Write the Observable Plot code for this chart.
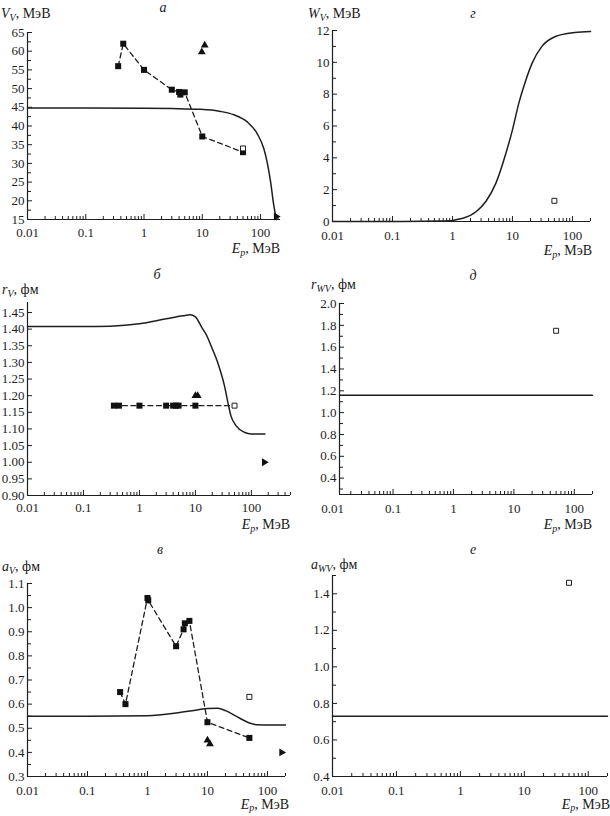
<!DOCTYPE html>
<html><head><meta charset="utf-8">
<script src="https://cdn.jsdelivr.net/npm/d3@7"></script>
<script src="https://cdn.jsdelivr.net/npm/@observablehq/plot@0.6"></script>
<style>
body{margin:0;background:#fff;}
#root{position:relative;width:610px;height:816px;background:#fff;font-family:"Liberation Serif","Times New Roman",Tinos,"DejaVu Serif","Noto Serif",FreeSerif,serif;color:#1a1a1a;overflow:hidden;}
.pn{position:absolute;}
.lbl{position:absolute;font-size:14px;line-height:16px;white-space:nowrap;}
.lbl sub{font-size:10px;vertical-align:-3px;line-height:0;}
.ttl{position:absolute;font-size:14px;font-style:italic;line-height:16px;transform:translateX(-50%);}
.xl{transform:translateX(-100%);}
.bt{line-height:14px;}
.bt sub{vertical-align:-2px;}
</style></head>
<body><div id="root"></div>
<script>
// ---- data ----
const xTickLabels = [0.01, 0.1, 1, 10, 100];

// panel а : V_V
const aCurveE = [0.01, 0.1, 1, 3, 9.3, 20.6, 34.8, 59, 88, 114, 130, 149, 169, 188];
const aCurveV = [44.8, 44.8, 44.75, 44.65, 44.45, 43.9, 43.0, 41.1, 37.9, 33.9, 30.3, 25.0, 18.7, 15.0];
const aSqE = [0.36, 0.44, 1, 3, 4, 4.2, 5, 10, 50];
const aSqV = [56, 62, 55, 49.7, 49.1, 48.4, 49, 37.2, 33];
const aOpenE = [50], aOpenV = [34];
const aTriE = [9.8, 11], aTriV = [59.8, 61.6];
const aRTriE = [185], aRTriV = [15.8];

// panel г : W_V
const gCurveE = [0.01, 0.1, 0.7, 1.5, 2.5, 3.6, 5.3, 7.8, 10, 12.9, 16.6, 21.3, 31, 52, 110, 200];
const gCurveW = [0, 0, 0.03, 0.21, 0.63, 1.26, 2.41, 4.3, 5.76, 7.5, 8.85, 9.95, 11.0, 11.62, 11.87, 11.93];
const gOpenE = [50], gOpenW = [1.3];

// panel б : r_V
const bCurveE = [0.01, 0.1, 0.3, 1, 3, 6, 8, 10, 13, 16, 19, 25, 33, 38, 43, 53, 75, 100, 175];
const bCurveR = [1.408, 1.408, 1.409, 1.416, 1.431, 1.44, 1.443, 1.437, 1.405, 1.38, 1.35, 1.30, 1.23, 1.18, 1.14, 1.11, 1.09, 1.085, 1.085];
const bSqE = [0.35, 0.43, 1, 3, 4, 4.5, 5, 10];
const bSqR = [1.17, 1.17, 1.17, 1.17, 1.17, 1.17, 1.17, 1.17];
const bOpenE = [50], bOpenR = [1.17];
const bTriE = [10, 11], bTriR = [1.20, 1.20];
const bRTriE = [170], bRTriR = [1.00];

// panel д : r_WV
const dCurveE = [0.013, 200], dCurveR = [1.16, 1.16];
const dOpenE = [50], dOpenR = [1.75];

// panel в : a_V
const vCurveE = [0.01, 0.1, 1, 3, 7, 10, 15, 20, 30, 50, 70, 100, 200];
const vCurveA = [0.55, 0.55, 0.552, 0.563, 0.577, 0.582, 0.583, 0.573, 0.55, 0.522, 0.514, 0.513, 0.513];
const vSqE = [0.35, 0.43, 1, 1.03, 3, 4, 4.2, 5, 10, 50];
const vSqA = [0.65, 0.60, 1.04, 1.03, 0.84, 0.91, 0.935, 0.945, 0.525, 0.46];
const vOpenE = [50], vOpenA = [0.63];
const vTriE = [10, 11], vTriA = [0.45, 0.435];
const vRTriE = [172], vRTriA = [0.40];

// panel е : a_WV
const eCurveE = [0.01, 200], eCurveA = [0.73, 0.73];
const eOpenE = [50], eOpenA = [1.46];

// ---- helpers ----
const zip = (xs, ys) => xs.map((x, i) => ({x, y: ys[i]}));
const range = (a, b, s) => { const r = []; for (let v = a; v <= b + 1e-9; v += s) r.push(+v.toFixed(4)); return r; };
const INK = "#1e1e1e";
const FONT = '"Liberation Serif", "Times New Roman", Tinos, "DejaVu Serif", "Noto Serif", FreeSerif, serif';

function panel(cfg) {
  const {w, h, ml, mr, mt, mb, xd, yd, yMajor, yMinor, yFmt, curve, dashed, open, tri, rtri, tdy} = cfg;
  const plotW = w - ml - mr, plotH = h - mt - mb;
  const [x0, x1] = xd, [y0, y1] = yd;
  const yPerPx = (y1 - y0) / plotH;
  const decPx = plotW / Math.log10(x1 / x0);
  const xOff = px => x0 * Math.pow(10, px / decPx);
  const xMaj = xTickLabels.filter(v => v >= x0 * 0.999 && v <= x1);
  const xMin = [];
  for (const d of xTickLabels) for (let k = 2; k <= 9; k++) { const v = d * k; if (v >= x0 && v <= x1 * 1.0001) xMin.push(v); }
  const marks = [
    Plot.ruleY([y0], {stroke: INK, strokeWidth: 1.2}),
    Plot.ruleX([x0], {stroke: INK, strokeWidth: 1.2}),
    Plot.ruleX(xMaj, {x: d => d, y1: y0, y2: y0 + 5 * yPerPx, stroke: INK, strokeWidth: 1}),
    Plot.ruleX(xMin, {x: d => d, y1: y0, y2: y0 + 3 * yPerPx, stroke: INK, strokeWidth: 1}),
    Plot.ruleY(yMajor, {y: d => d, x1: x0, x2: xOff(5), stroke: INK, strokeWidth: 1}),
    Plot.ruleY(yMinor, {y: d => d, x1: x0, x2: xOff(4), stroke: INK, strokeWidth: 1}),
    Plot.text(xTickLabels, {x: d => d, y: y0, text: d => String(d), dy: tdy, fontSize: 13, fill: INK}),
    Plot.text(yMajor, {x: x0, y: d => d, text: yFmt, dx: -3, textAnchor: "end", fontSize: 13, fill: INK}),
  ];
  if (dashed) marks.push(Plot.line(dashed, {x: "x", y: "y", stroke: INK, strokeWidth: 1.3, strokeDasharray: "5,3.5"}));
  marks.push(Plot.line(curve, {x: "x", y: "y", curve: "monotone-x", stroke: INK, strokeWidth: 1.5}));
  if (cfg.sq) marks.push(Plot.dot(cfg.sq, {x: "x", y: "y", symbol: "square", r: 3.4, fill: "#111", stroke: "none"}));
  if (open) marks.push(Plot.dot(open, {x: "x", y: "y", symbol: "square", r: 2.8, fill: "#fff", stroke: INK, strokeWidth: 1}));
  if (tri) marks.push(Plot.dot(tri, {x: "x", y: "y", symbol: "triangle", r: 2.9, fill: "#111", stroke: "none"}));
  if (rtri) marks.push(Plot.dot(rtri, {x: "x", y: "y", symbol: "triangle", rotate: 90, r: 2.9, fill: "#111", stroke: "none"}));
  return Plot.plot({
    width: w, height: h, marginLeft: ml, marginRight: mr, marginTop: mt, marginBottom: mb,
    x: {type: "log", domain: xd, axis: null},
    y: {type: "linear", domain: yd, axis: null},
    style: {fontFamily: FONT, fontSize: "13px", background: "transparent", overflow: "visible"},
    marks
  });
}

const root = document.getElementById("root");
function place(el, left, top) { const d = document.createElement("div"); d.className = "pn"; d.style.left = left + "px"; d.style.top = top + "px"; d.appendChild(el); root.appendChild(d); }
function label(html, cls, left, top) { const d = document.createElement("div"); d.className = cls; d.style.left = left + "px"; d.style.top = top + "px"; d.innerHTML = html; root.appendChild(d); }

const f0 = d => d.toFixed(0), f1 = d => d.toFixed(1), f2 = d => d.toFixed(2);
const Ep = '<i>E</i><sub><i>p</i></sub>, МэВ';

// а
place(panel({w: 305, h: 260, ml: 27, mr: 25, mt: 32, mb: 41, xd: [0.01, 220], yd: [15, 65], tdy: 13,
  yMajor: range(15, 65, 5), yMinor: range(17.5, 62.5, 5), yFmt: f0,
  curve: zip(aCurveE, aCurveV), dashed: zip(aSqE, aSqV), sq: zip(aSqE, aSqV),
  open: zip(aOpenE, aOpenV), tri: zip(aTriE, aTriV), rtri: zip(aRTriE, aRTriV)}), 0, 0);
label('<i>V</i><sub><i>V</i></sub>, МэВ', "lbl", 1, 6);
label('а', "ttl", 163, 0);
label(Ep, "lbl xl", 280, 241);

// г
place(panel({w: 305, h: 260, ml: 27, mr: 20, mt: 30, mb: 39, xd: [0.01, 200], yd: [0, 12], tdy: 14,
  yMajor: range(0, 12, 2), yMinor: range(1, 11, 2), yFmt: f0,
  curve: zip(gCurveE, gCurveW), open: zip(gOpenE, gOpenW)}), 305, 0);
label('<i>W</i><sub><i>V</i></sub>, МэВ', "lbl", 308, 6);
label('г', "ttl", 473, 6);
label(Ep, "lbl xl", 592, 243);

// б
place(panel({w: 305, h: 275, ml: 27, mr: 15, mt: 42, mb: 40, xd: [0.01, 500], yd: [0.9, 1.48], tdy: 12,
  yMajor: range(0.9, 1.45, 0.05), yMinor: [], yFmt: f2,
  curve: zip(bCurveE, bCurveR), dashed: zip([...bSqE, ...bOpenE], [...bSqR, ...bOpenR]), sq: zip(bSqE, bSqR),
  open: zip(bOpenE, bOpenR), tri: zip(bTriE, bTriR), rtri: zip(bRTriE, bRTriR)}), 0, 260);
label('<i>r</i><sub><i>V</i></sub>, фм', "lbl", 2, 282);
label('б', "ttl", 157, 267);
label(Ep, "lbl xl", 290, 517);

// д
place(panel({w: 305, h: 275, ml: 34, mr: 18, mt: 43, mb: 41, xd: [0.013, 200], yd: [0.25, 2.0], tdy: 14,
  yMajor: range(0.4, 2.0, 0.2), yMinor: range(0.3, 1.9, 0.2), yFmt: f1,
  curve: zip(dCurveE, dCurveR), open: zip(dOpenE, dOpenR)}), 305, 260);
label('<i>r</i><sub><i>WV</i></sub>, фм', "lbl", 311, 277);
label('д', "ttl", 473, 268);
label(Ep, "lbl xl", 592, 517);

// в
place(panel({w: 305, h: 281, ml: 27, mr: 20, mt: 48, mb: 40, xd: [0.01, 200], yd: [0.3, 1.1], tdy: 14,
  yMajor: range(0.3, 1.1, 0.1), yMinor: range(0.35, 1.05, 0.1), yFmt: f1,
  curve: zip(vCurveE, vCurveA), dashed: zip(vSqE, vSqA), sq: zip(vSqE, vSqA),
  open: zip(vOpenE, vOpenA), tri: zip(vTriE, vTriA), rtri: zip(vRTriE, vRTriA)}), 0, 535);
label('<i>a</i><sub><i>V</i></sub>, фм', "lbl", 2, 559);
label('в', "ttl", 160, 542);
label(Ep, "lbl xl bt", 289, 798);

// е
place(panel({w: 305, h: 281, ml: 27, mr: 3, mt: 40, mb: 40, xd: [0.01, 200], yd: [0.4, 1.5], tdy: 14,
  yMajor: range(0.4, 1.4, 0.2), yMinor: range(0.5, 1.5, 0.2), yFmt: f1,
  curve: zip(eCurveE, eCurveA), open: zip(eOpenE, eOpenA)}), 305, 535);
label('<i>a</i><sub><i>WV</i></sub>, фм', "lbl", 311, 557);
label('е', "ttl", 473, 542);
label(Ep, "lbl xl bt", 610, 798);
</script></body></html>
